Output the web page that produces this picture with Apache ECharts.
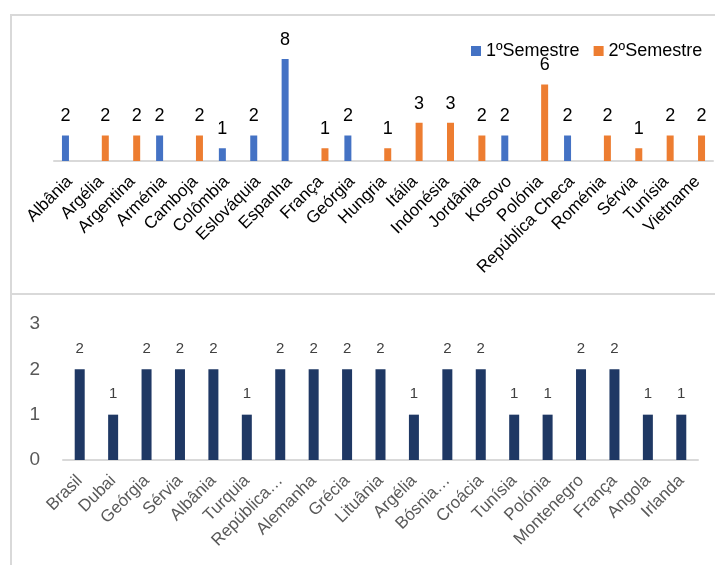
<!DOCTYPE html>
<html>
<head>
<meta charset="utf-8">
<script src="https://cdn.jsdelivr.net/npm/echarts@6/dist/echarts.min.js"></script>
<style>
html,body{margin:0;padding:0;background:#fff;}
#c{width:715px;height:565px;}
</style>
</head>
<body>
<div id="c"></div>
<script>
var topCategories = ['Albânia','Argélia','Argentina','Arménia','Camboja','Colômbia','Eslováquia','Espanha','França','Geórgia','Hungria','Itália','Indonésia','Jordânia','Kosovo','Polónia','República Checa','Roménia','Sérvia','Tunísia','Vietname'];
var sem1 = [2,null,null,2,null,1,2,8,null,2,null,null,null,null,2,null,2,null,null,null,null];
var sem2 = [null,2,2,null,2,null,null,null,1,null,1,3,3,2,null,6,null,2,1,2,2];
var seriesNames = ['1ºSemestre','2ºSemestre'];

var bottomCategories = ['Brasil','Dubai','Geórgia','Sérvia','Albânia','Turquia','República…','Alemanha','Grécia','Lituânia','Argélia','Bósnia…','Croácia','Tunísia','Polónia','Montenegro','França','Angola','Irlanda'];
var bottomValues = [2,1,2,2,2,1,2,2,2,2,1,2,2,1,1,2,2,1,1];
var bottomTicks = [0,1,2,3];

var FONT = '"Liberation Sans", Arial, sans-serif';
var chart = echarts.init(document.getElementById('c'));
chart.setOption({
  animation: false,
  textStyle: {fontFamily: FONT},
  legend: {
    data: seriesNames,
    left: 466, top: 37,
    itemWidth: 10, itemHeight: 10, itemGap: 14,
    icon: 'rect',
    textStyle: {fontSize: 18, color: '#000', fontFamily: FONT}
  },
  graphic: [
    {type:'line', shape:{x1:10,y1:15,x2:715,y2:15}, style:{stroke:'#d9d9d9',lineWidth:2}},
    {type:'line', shape:{x1:11,y1:14,x2:11,y2:565}, style:{stroke:'#d9d9d9',lineWidth:2}},
    {type:'line', shape:{x1:10,y1:294,x2:715,y2:294}, style:{stroke:'#d9d9d9',lineWidth:2}}
  ],
  grid: [
    {left: 54, right: 2, top: 33.5, bottom: 404},
    {left: 63, right: 17, top: 324, bottom: 105}
  ],
  xAxis: [
    {type:'category', gridIndex:0, data: topCategories,
     axisLine:{lineStyle:{color:'#d9d9d9', width:2}}, axisTick:{show:false},
     axisLabel:{interval:0, rotate:45, fontSize:17, color:'#000', margin:18, fontFamily: FONT}},
    {type:'category', gridIndex:1, data: bottomCategories,
     axisLine:{lineStyle:{color:'#d9d9d9', width:2}}, axisTick:{show:false},
     axisLabel:{interval:0, rotate:45, fontSize:17, color:'#595959', margin:18, fontFamily: FONT}}
  ],
  yAxis: [
    {type:'value', gridIndex:0, min:0, max:10, show:false, splitLine:{show:false}},
    {type:'value', gridIndex:1, min:bottomTicks[0], max:bottomTicks[bottomTicks.length-1], interval:1,
     axisLine:{show:false}, axisTick:{show:false}, splitLine:{show:false},
     axisLabel:{fontSize:19, color:'#595959', margin:23, fontFamily: FONT}}
  ],
  series: [
    {name: seriesNames[0], type:'bar', xAxisIndex:0, yAxisIndex:0, data: sem1,
     barWidth:7, barGap:'21%', itemStyle:{color:'#4472C4'},
     label:{show:true, position:'top', distance:10, fontSize:18, color:'#000', fontFamily: FONT}},
    {name: seriesNames[1], type:'bar', xAxisIndex:0, yAxisIndex:0, data: sem2,
     barWidth:7, barGap:'21%', itemStyle:{color:'#ED7D31'},
     label:{show:true, position:'top', distance:10, fontSize:18, color:'#000', fontFamily: FONT}},
    {name: 'bottom', type:'bar', xAxisIndex:1, yAxisIndex:1, data: bottomValues,
     barWidth:10, itemStyle:{color:'#1F3864'},
     label:{show:true, position:'top', distance:13, fontSize:15, color:'#404040', fontFamily: FONT}}
  ]
});
</script>
</body>
</html>
